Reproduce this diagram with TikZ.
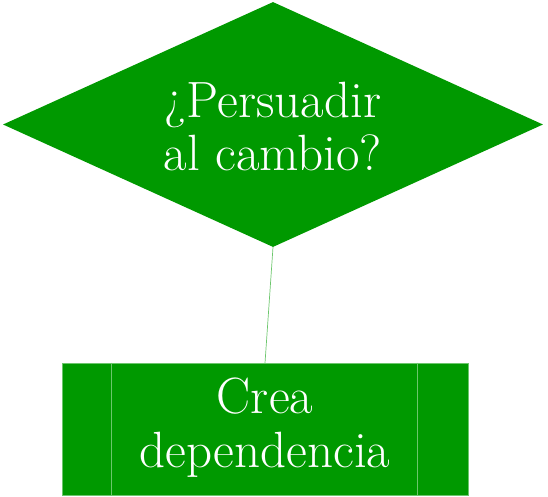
\documentclass[tikz,border=0pt]{standalone}
\usetikzlibrary{shapes.geometric}
\definecolor{gfill}{HTML}{009900}
\definecolor{gline}{HTML}{6CC66C}
\begin{document}
\begin{tikzpicture}[x=1pt,y=-1pt,
  dec/.style={diamond,fill=gfill,draw=none,inner sep=0pt,minimum width=540pt,minimum height=245pt,text=white,align=center,font=\fontsize{51}{53}\selectfont},
  proc/.style={rectangle,fill=gfill,draw=gline,line width=0.6pt,inner sep=0pt,minimum width=406pt,minimum height=132pt,text=white,align=center,font=\fontsize{51}{54}\selectfont},
  conn/.style={draw=gline,line width=0.7pt}]
\useasboundingbox (0,0) rectangle (548,497);
\node[dec] (d) at (273,124.5) {};
\node[text=white,align=center,font=\fontsize{51}{53}\selectfont] (dt) at (273,127) {¿Persuadir\\al cambio?};
\node[proc] (r) at (265,429) {};
\node[text=white,align=center,font=\fontsize{51}{54}\selectfont] (rtx) at (265,428) {Crea\\dependencia};
\draw[gline,line width=0.8pt] ([xshift=50pt]r.north west) -- ([xshift=50pt]r.south west);
\draw[gline,line width=0.8pt] ([xshift=-51pt]r.north east) -- ([xshift=-51pt]r.south east);
\coordinate (rt) at (265,363);
\draw[conn] (d.south) -- (rt);
\end{tikzpicture}
\end{document}
